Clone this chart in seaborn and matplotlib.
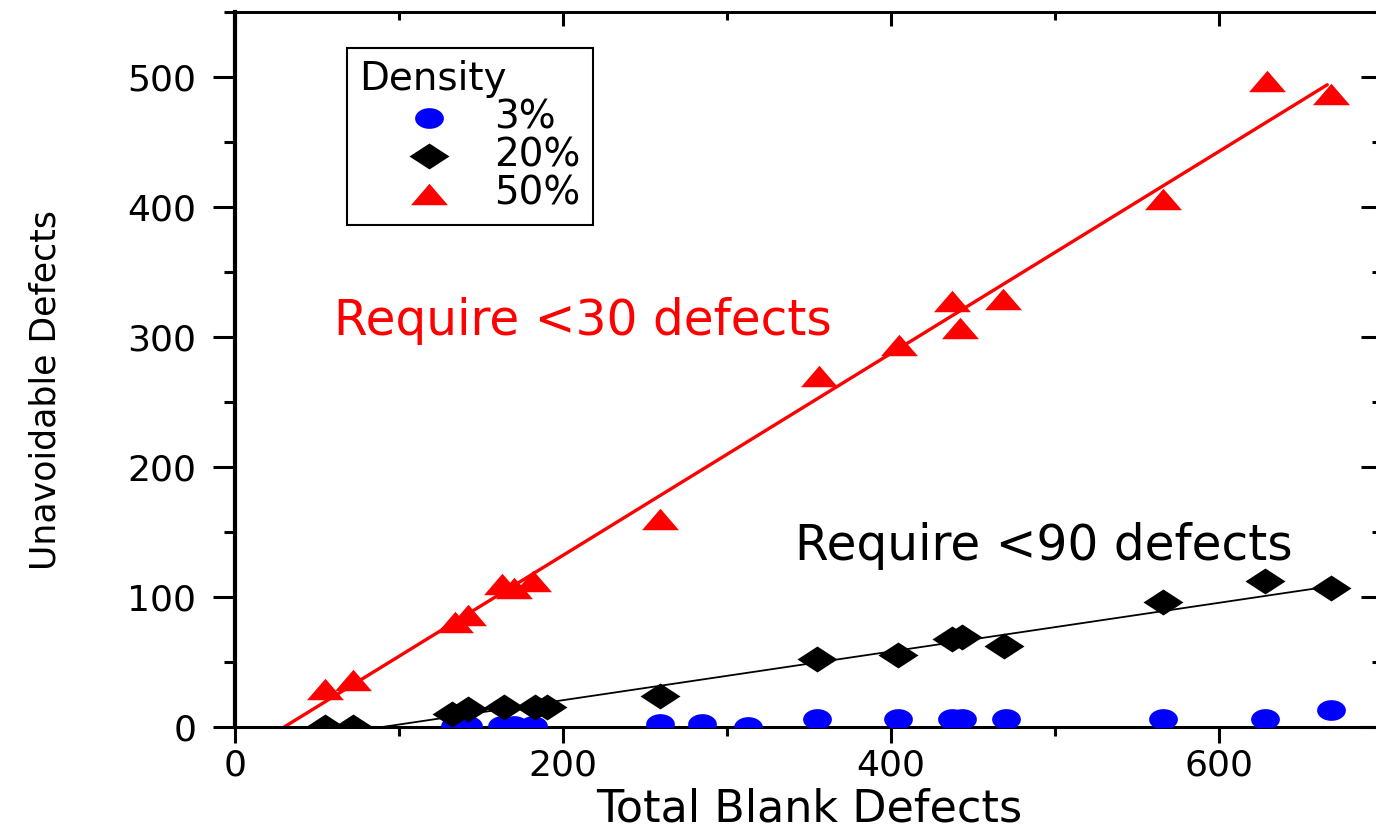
import numpy as np
import pandas as pd
import seaborn as sns
import matplotlib
matplotlib.use("Agg")
import matplotlib.pyplot as plt
from matplotlib.markers import MarkerStyle
from matplotlib.path import Path
from matplotlib.ticker import MultipleLocator

# ---------------- data ----------------
blank_3 = [134, 142, 163, 170, 182, 259, 285, 313, 355, 404, 437, 443, 470, 566, 628, 668]
unavoid_3 = [1, 1, 1, 1, 1, 2, 2, 0, 6, 6, 6, 6, 6, 6, 6, 13]

blank_20 = [55, 72, 132, 142, 164, 183, 190, 259, 355, 404, 437, 443, 469, 566, 628, 668]
unavoid_20 = [0, 0, 10, 14, 15, 15, 15, 24, 52, 55, 68, 69, 62, 96, 112, 107]

blank_50 = [55, 72, 134, 142, 163, 170, 182, 259, 356, 405, 437, 442, 468, 566, 629, 668]
unavoid_50 = [29, 36, 81, 86, 110, 107, 112, 160, 270, 294, 328, 307, 329, 406, 497, 487]

fit_50_x = [30, 666]
fit_50_y = [0, 494]
fit_20_x = [90, 672]
fit_20_y = [0, 109]

legend_labels = ["3%", "20%", "50%"]
x_label = "Total Blank Defects"
y_label = "Unavoidable Defects"
note_50 = "Require <30 defects"
note_20 = "Require <90 defects"

# ---------------- style ----------------
sns.set_style("ticks")
plt.rcParams["font.family"] = ["DejaVu Sans"]
plt.rcParams["text.color"] = "black"
plt.rcParams["axes.labelcolor"] = "black"
plt.rcParams["xtick.color"] = "black"
plt.rcParams["ytick.color"] = "black"

fig = plt.figure(figsize=(13.76, 8.31), dpi=100)
ax = fig.add_axes([0.1708, 0.1252, 0.8343, 0.8604])

# stretched (wide) marker shapes as in the reference
tri = MarkerStyle(Path([(0, 0.58), (-1, -0.58), (1, -0.58), (0, 0.58)], closed=True))
dia = MarkerStyle(Path([(0, 0.65), (-1, 0), (0, -0.65), (1, 0), (0, 0.65)], closed=True))
t = np.linspace(0, 2 * np.pi, 40)
ell = MarkerStyle(Path(np.column_stack([np.cos(t), 0.72 * np.sin(t)]), closed=True))

# fit lines
sns.lineplot(x=fit_50_x, y=fit_50_y, ax=ax, color="#ff0000", linewidth=2.4,
             estimator=None, sort=False, zorder=2)
sns.lineplot(x=fit_20_x, y=fit_20_y, ax=ax, color="black", linewidth=1.3,
             estimator=None, sort=False, zorder=2)

# scatter series
sns.scatterplot(x=blank_3, y=unavoid_3, ax=ax, marker=ell, s=430,
                color="#0000ff", edgecolor="#0000ff", linewidth=0, zorder=3)
sns.scatterplot(x=blank_20, y=unavoid_20, ax=ax, marker=dia, s=830,
                color="black", edgecolor="black", linewidth=0, zorder=4)
sns.scatterplot(x=blank_50, y=unavoid_50, ax=ax, marker=tri, s=710,
                color="#ff0000", edgecolor="#ff0000", linewidth=0, zorder=5)

h3, h20, h50 = ax.collections[-3], ax.collections[-2], ax.collections[-1]

# ---------------- axes ----------------
ax.set_xlim(0, 700)
ax.set_ylim(0, 550)
ax.xaxis.set_major_locator(MultipleLocator(200))
ax.xaxis.set_minor_locator(MultipleLocator(100))
ax.yaxis.set_major_locator(MultipleLocator(100))
ax.yaxis.set_minor_locator(MultipleLocator(50))

ax.tick_params(axis="x", which="major", direction="out", length=11.5, width=2.2,
               labelsize=26, pad=4, colors="black")
ax.tick_params(axis="x", which="minor", direction="out", length=6.5, width=2.2)
ax.tick_params(axis="y", which="major", direction="out", length=16, width=2.2,
               labelsize=26, pad=12, colors="black")
ax.tick_params(axis="y", which="minor", direction="out", length=8, width=2.2)

for side, lw in (("left", 3.0), ("bottom", 2.2), ("top", 2.0), ("right", 2.0)):
    ax.spines[side].set_visible(True)
    ax.spines[side].set_linewidth(lw)
    ax.spines[side].set_color("black")

secx = ax.secondary_xaxis("top")
secx.xaxis.set_major_locator(MultipleLocator(200))
secx.xaxis.set_minor_locator(MultipleLocator(100))
secx.tick_params(which="both", direction="in", labeltop=False, width=2.2)
secx.tick_params(which="major", length=10)
secx.tick_params(which="minor", length=6)
secx.spines["top"].set_linewidth(2.0)

secy = ax.secondary_yaxis("right")
secy.yaxis.set_major_locator(MultipleLocator(100))
secy.yaxis.set_minor_locator(MultipleLocator(50))
secy.tick_params(which="both", direction="in", labelright=False, width=2.2)
secy.tick_params(which="major", length=16)
secy.tick_params(which="minor", length=8)

ax.set_xlabel(x_label, fontsize=32)
ax.xaxis.set_label_coords(0.5, -0.1448)
ax.xaxis.label.set_verticalalignment("bottom")
ax.set_ylabel(y_label, fontsize=25)
ax.yaxis.set_label_coords(-0.150, 0.471)

# annotations
ax.text(212, 312, note_50, color="#ff0000", fontsize=35, ha="center", va="center")
ax.text(493, 139, note_20, color="black", fontsize=35, ha="center", va="center")

# legend
leg = ax.legend(handles=[h3, h20, h50], labels=legend_labels, title="Density",
                loc="upper left", bbox_to_anchor=(0.0976, 0.9497), borderaxespad=0,
                fontsize=28, title_fontsize=28, frameon=True, fancybox=False,
                edgecolor="black", framealpha=1, handlelength=3.56,
                handletextpad=-0.1, labelspacing=0.0, borderpad=0.32,
                alignment="left", scatterpoints=1)
leg.get_frame().set_linewidth(1.5)
for txt in leg.get_texts():
    txt.set_color("black")
leg.get_title().set_color("black")

fig.savefig("out.png", dpi=100, facecolor="white")
